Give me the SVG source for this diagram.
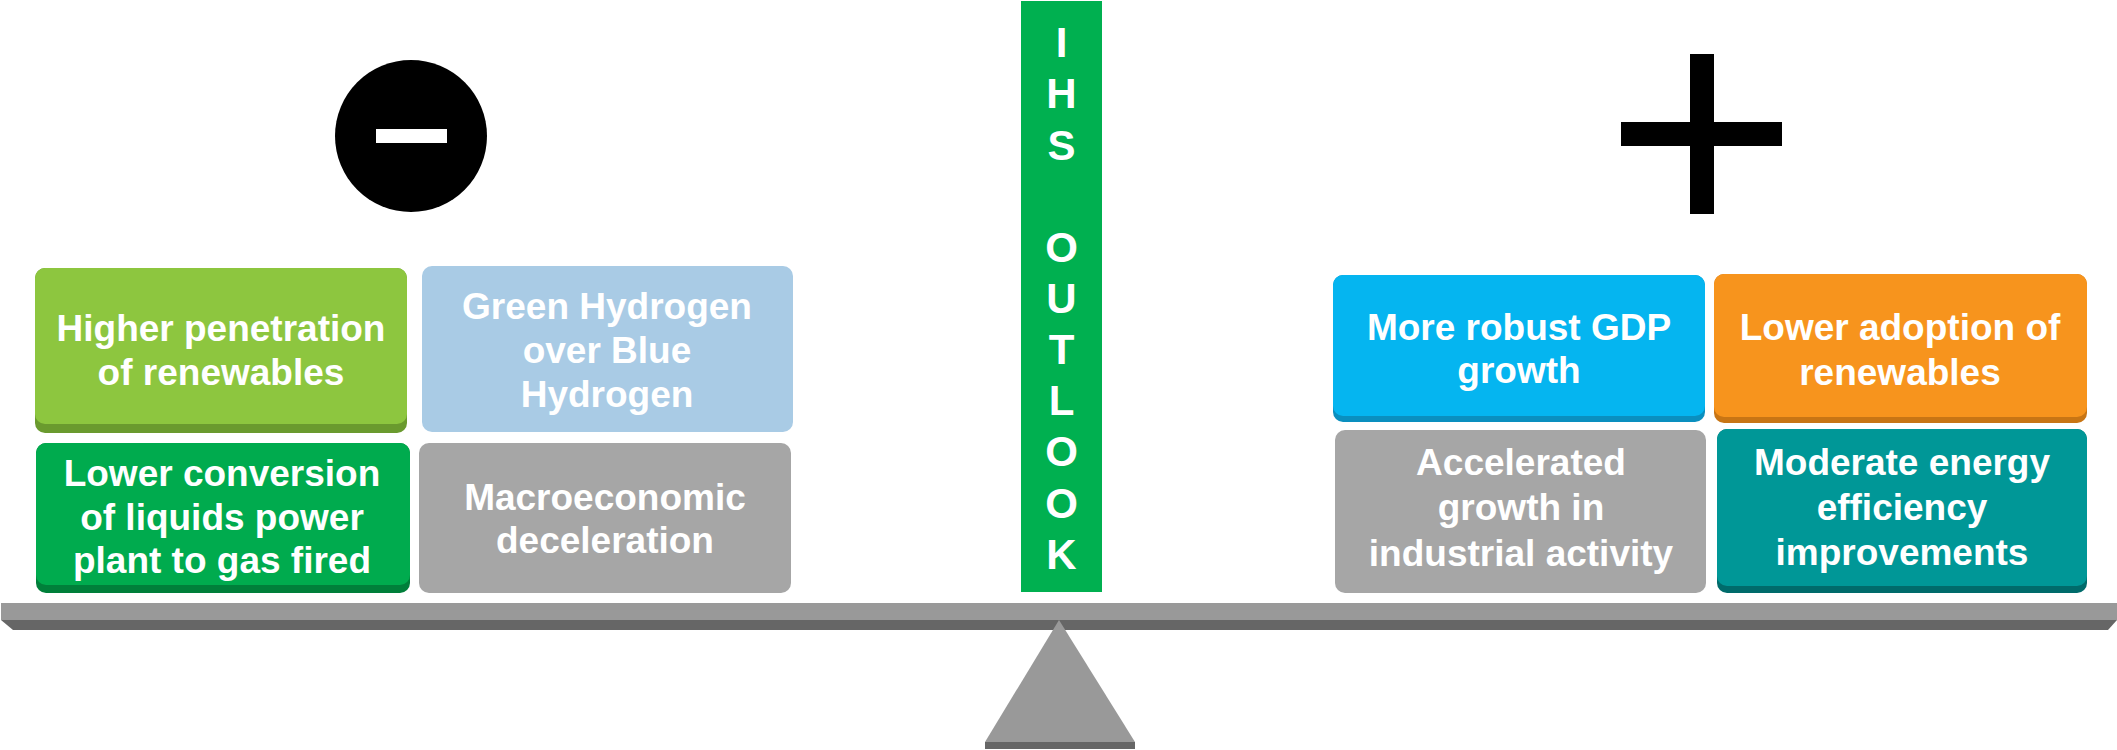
<svg xmlns="http://www.w3.org/2000/svg" width="2117" height="750" viewBox="0 0 2117 750">
<style>
.t{font-family:"Liberation Sans",Arial,sans-serif;font-weight:bold;font-size:37px;fill:#fff;text-anchor:middle}
.ihs{font-family:"Liberation Sans",Arial,sans-serif;font-weight:bold;font-size:42px;fill:#fff;text-anchor:middle}
.blk{fill:#000}
</style>
<rect width="2117" height="750" fill="#fff"/>
<g id="minus-sign">
<circle cx="411" cy="136" r="76" class="blk"/>
<rect x="376" y="129" width="71" height="14" fill="#fff"/>
</g>
<g id="plus-sign">
<rect x="1690" y="54" width="24" height="160" class="blk"/>
<rect x="1621" y="122" width="161" height="24" class="blk"/>
</g>
<g id="ihs-outlook">
<rect x="1021" y="1" width="81" height="591" fill="#00B050"/>
<text class="ihs" x="1061.5" y="57">I</text>
<text class="ihs" x="1061.5" y="108">H</text>
<text class="ihs" x="1061.5" y="160">S</text>
<text class="ihs" x="1061.5" y="262">O</text>
<text class="ihs" x="1061.5" y="313">U</text>
<text class="ihs" x="1061.5" y="364">T</text>
<text class="ihs" x="1061.5" y="415">L</text>
<text class="ihs" x="1061.5" y="466">O</text>
<text class="ihs" x="1061.5" y="518">O</text>
<text class="ihs" x="1061.5" y="569">K</text>
</g>
<g id="node-higher-penetration">
<rect x="35" y="268" width="372" height="165" rx="10" fill="#6A9A2E"/>
<rect x="35" y="268" width="372" height="156" rx="10" fill="#8DC63F"/>
<text class="t" x="221" y="341">Higher penetration</text>
<text class="t" x="221" y="385">of renewables</text>
</g>
<g id="node-green-hydrogen">
<rect x="422" y="266" width="371" height="166" rx="10" fill="#A9CBE5"/>
<text class="t" x="607" y="319">Green Hydrogen</text>
<text class="t" x="607" y="363">over Blue</text>
<text class="t" x="607" y="407">Hydrogen</text>
</g>
<g id="node-lower-conversion">
<rect x="36" y="443" width="374" height="150" rx="10" fill="#007F3A"/>
<rect x="36" y="443" width="374" height="142" rx="10" fill="#00AB4E"/>
<text class="t" x="222" y="486">Lower conversion</text>
<text class="t" x="222" y="530">of liquids power</text>
<text class="t" x="222" y="573">plant to gas fired</text>
</g>
<g id="node-macroeconomic">
<rect x="419" y="443" width="372" height="150" rx="10" fill="#A6A6A6"/>
<text class="t" x="605" y="510">Macroeconomic</text>
<text class="t" x="605" y="553">deceleration</text>
</g>
<g id="node-gdp">
<rect x="1333" y="275" width="372" height="147" rx="10" fill="#0A8FBF"/>
<rect x="1333" y="275" width="372" height="141" rx="10" fill="#05B5F0"/>
<text class="t" x="1519" y="340">More robust GDP</text>
<text class="t" x="1519" y="383">growth</text>
</g>
<g id="node-lower-adoption">
<rect x="1714" y="274" width="373" height="149" rx="10" fill="#C87514"/>
<rect x="1714" y="274" width="373" height="143" rx="10" fill="#F7941D"/>
<text class="t" x="1900" y="340">Lower adoption of</text>
<text class="t" x="1900" y="385">renewables</text>
</g>
<g id="node-accelerated">
<rect x="1335" y="430" width="371" height="163" rx="10" fill="#A6A6A6"/>
<text class="t" x="1521" y="475">Accelerated</text>
<text class="t" x="1521" y="520">growth in</text>
<text class="t" x="1521" y="566">industrial activity</text>
</g>
<g id="node-moderate-efficiency">
<rect x="1717" y="429" width="370" height="164" rx="10" fill="#006B6B"/>
<rect x="1717" y="429" width="370" height="157" rx="10" fill="#009797"/>
<text class="t" x="1902" y="475">Moderate energy</text>
<text class="t" x="1902" y="520">efficiency</text>
<text class="t" x="1902" y="565">improvements</text>
</g>
<g id="balance">
<rect x="1" y="603" width="2116" height="17" fill="#999999"/>
<polygon points="1,620 2117,620 2108,630 13,630" fill="#666666"/>
<polygon points="1059,620 1135,742 985,742" fill="#999999"/>
<rect x="985" y="742" width="150" height="7" fill="#666666"/>
</g>
<g id="connectors"></g>
</svg>
